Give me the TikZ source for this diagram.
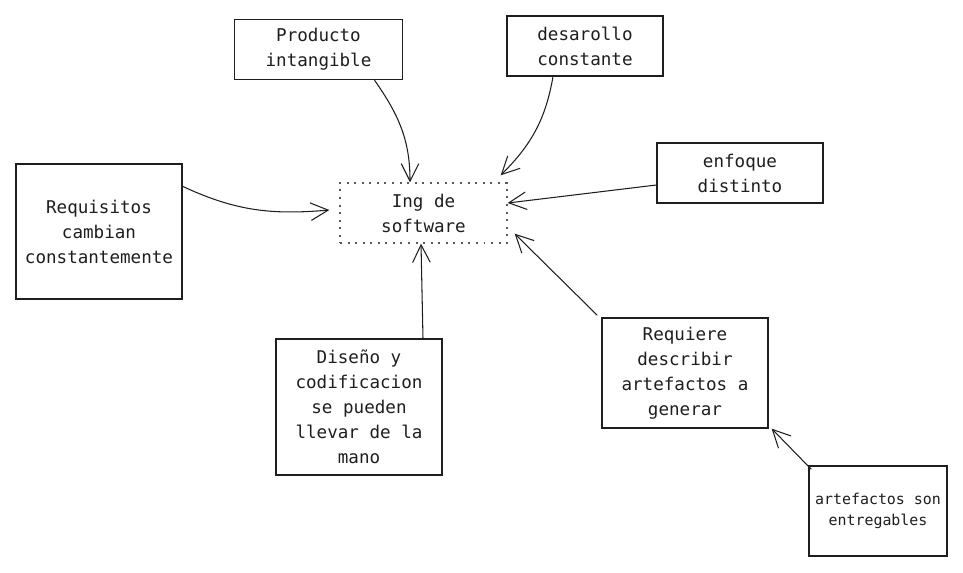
\documentclass[tikz,border=0pt]{standalone}
\usepackage{fontspec}
\setmonofont{DejaVu Sans Mono}
\usetikzlibrary{arrows.meta}
\definecolor{ink}{HTML}{1E1E1E}

\begin{document}
\begin{tikzpicture}[x=0.02cm, y=-0.02cm, >={Straight Barb[length=10pt,width=10pt]}]
  \tikzstyle{idea}=[draw=ink, line width=0.75pt, inner sep=0pt, align=center,
    font=\ttfamily\fontsize{10}{14.2}\selectfont, text=ink]
  \tikzstyle{centro}=[idea, draw=gray!70!black, dash pattern=on 1.1pt off 3.2pt]
  \tikzstyle{link}=[->, draw=ink, line width=0.6pt]
  \useasboundingbox (0,0) rectangle (963,572);

  \node[centro, minimum width=3.34cm, minimum height=1.2cm] (ing) at (423.5,213) {Ing de\\software};
  \node[idea, minimum width=3.36cm, minimum height=1.2cm] (prod) at (318.5,49.5) {Producto\\intangible};
  \node[idea, minimum width=3.12cm, minimum height=1.2cm] (desa) at (585,46) {desarollo\\constante};
  \node[idea, minimum width=3.32cm, minimum height=2.7cm] (req) at (99,231.5) {Requisitos\\cambian\\constantemente};
  \node[idea, minimum width=3.32cm, minimum height=1.2cm] (enf) at (740,173) {enfoque\\distinto};
  \node[idea, minimum width=3.32cm, minimum height=2.2cm] (reqd) at (685,373) {Requiere\\describir\\artefactos a\\generar};
  \node[idea, minimum width=2.76cm, minimum height=1.8cm,
    font=\ttfamily\fontsize{8.5}{12.3}\selectfont] (art) at (878,511) {artefactos son\\entregables};
  \node[idea, minimum width=3.32cm, minimum height=2.72cm] (dis) at (359,407) {Diseño y\\codificacion\\se pueden\\llevar de la\\mano};

  \path
    ([xshift=1.12cm]prod.south) edge[link, out=-55, in=90] ([xshift=-0.27cm]ing.north)
    ([xshift=-0.64cm]desa.south) edge[link, out=-100, in=45] ([shift={(-0.14cm,0.14cm)}]ing.north east)
    ([yshift=-0.46cm]req.north east) edge[link, out=-25, in=185] ([shift={(-0.2cm,0.06cm)}]ing.west)
    ([yshift=-0.24cm]enf.west) edge[link] ([yshift=0.2cm]ing.east)
    ([shift={(-0.08cm,0.04cm)}]reqd.north west) edge[link] ([shift={(0.14cm,0.2cm)}]ing.south east)
    ([shift={(0.06cm,-0.08cm)}]art.north west) edge[link] ([xshift=0.06cm]reqd.south east)
    ([xshift=1.28cm]dis.north) edge[link] ([xshift=-0.05cm]ing.south);
\end{tikzpicture}
\end{document}
